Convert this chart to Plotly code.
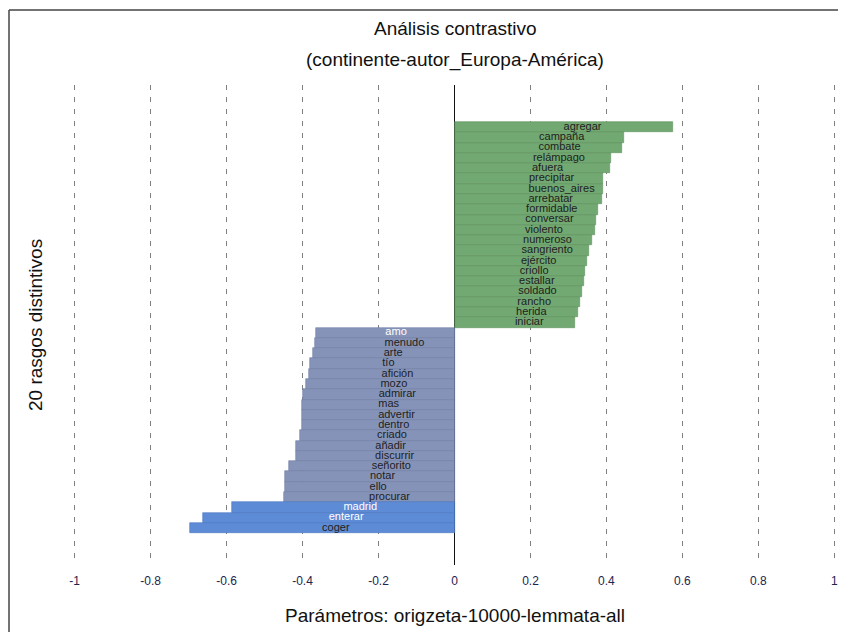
import plotly.graph_objects as go

# ---- data ----
words_pos = ["agregar", "campaña", "combate", "relámpago", "afuera", "precipitar",
             "buenos_aires", "arrebatar", "formidable", "conversar", "violento",
             "numeroso", "sangriento", "ejército", "criollo", "estallar", "soldado",
             "rancho", "herida", "iniciar"]
values_pos = [0.574, 0.445, 0.442, 0.413, 0.408, 0.392, 0.390, 0.389, 0.377, 0.373,
              0.371, 0.361, 0.353, 0.350, 0.344, 0.340, 0.335, 0.331, 0.324, 0.318]

words_neg = ["amo", "menudo", "arte", "tío", "afición", "mozo", "admirar", "mas",
             "advertir", "dentro", "criado", "añadir", "discurrir", "señorito",
             "notar", "ello", "procurar", "madrid", "enterar", "coger"]
values_neg = [-0.364, -0.368, -0.373, -0.380, -0.384, -0.390, -0.399, -0.401,
              -0.402, -0.402, -0.408, -0.417, -0.418, -0.436, -0.445, -0.447,
              -0.450, -0.585, -0.662, -0.697]

tick_vals = [-1, -0.8, -0.6, -0.4, -0.2, 0, 0.2, 0.4, 0.6, 0.8, 1]
tick_text = ["-1", "-0.8", "-0.6", "-0.4", "-0.2", "0", "0.2", "0.4", "0.6", "0.8", "1"]

title_1 = "Análisis contrastivo"
title_2 = "(continente-autor_Europa-América)"
x_title = "Parámetros: origzeta-10000-lemmata-all"
y_title = "20 rasgos distintivos"

# ---- styles ----
GREEN = "#72a872"
GREEN_LINE = "#5e925e"
GREY_BLUE = "#8693b8"
GREY_BLUE_LINE = "#6f7ca2"
BRIGHT_BLUE = "#5e8bd6"
BRIGHT_BLUE_LINE = "#4a76c0"
WHITE_LABELS = {"amo", "madrid", "enterar"}
FONT = "Liberation Sans, Arial, sans-serif"

words = words_pos + words_neg
values = values_pos + values_neg

colors, line_colors = [], []
for v in values:
    if v > 0:
        colors.append(GREEN); line_colors.append(GREEN_LINE)
    elif v > -0.5:
        colors.append(GREY_BLUE); line_colors.append(GREY_BLUE_LINE)
    else:
        colors.append(BRIGHT_BLUE); line_colors.append(BRIGHT_BLUE_LINE)

text_colors = ["#ffffff" if w in WHITE_LABELS else "#1e1e1e" for w in words]

fig = go.Figure()
fig.add_trace(go.Bar(
    x=values, y=words, orientation="h",
    marker=dict(color=colors, line=dict(color=line_colors, width=0.6)),
    hoverinfo="x+y", showlegend=False,
))
fig.add_trace(go.Scatter(
    x=[v / 2 for v in values], y=words, mode="text", text=words,
    textposition="middle right",
    textfont=dict(family=FONT, size=11, color=text_colors),
    hoverinfo="skip", showlegend=False,
))

# page offset (browser body margin) compensation
OFF = 8
FW, FH = 846 - OFF, 632 - OFF
L, R, T, B = 59, 4, 77, 67
W = FW - L - R
H = FH - T - B

def px_x(p):
    return (p - OFF - L) / W

def px_y(p):
    return (FH - B - (p - OFF)) / H

fig.update_layout(
    width=FW, height=FH,
    margin=dict(l=L, r=R, t=T, b=B, autoexpand=False),
    paper_bgcolor="white", plot_bgcolor="white",
    bargap=0,
    font=dict(family=FONT, color="#222222"),
    xaxis=dict(
        range=[-1.02, 1.02],
        tickvals=tick_vals, ticktext=tick_text,
        tickfont=dict(size=12, color="#1c2550"),
        showgrid=True, gridcolor="#808080", gridwidth=1, griddash="5px,7px",
        zeroline=True, zerolinecolor="#111111", zerolinewidth=1,
        showline=False, ticks="", ticklabelstandoff=7,
        automargin=False, fixedrange=True,
    ),
    yaxis=dict(
        categoryorder="array", categoryarray=words,
        range=[42.6, -4.1],
        showticklabels=False, showgrid=False, zeroline=False, ticks="",
        automargin=False, fixedrange=True,
    ),
    shapes=[
        dict(type="line", xref="paper", yref="paper",
             x0=px_x(9), x1=px_x(846), y0=px_y(10), y1=px_y(10),
             line=dict(color="#444444", width=1.5)),
        dict(type="line", xref="paper", yref="paper",
             x0=px_x(9), x1=px_x(9), y0=px_y(10), y1=px_y(632),
             line=dict(color="#444444", width=1.5)),
    ],
    annotations=[
        dict(text=title_1, xref="paper", yref="paper", x=px_x(455), y=px_y(28),
             xanchor="center", yanchor="middle", showarrow=False,
             font=dict(size=19, color="#111111")),
        dict(text=title_2, xref="paper", yref="paper", x=px_x(455), y=px_y(60),
             xanchor="center", yanchor="middle", showarrow=False,
             font=dict(size=19, color="#111111")),
        dict(text=x_title, xref="paper", yref="paper", x=px_x(455), y=px_y(615),
             xanchor="center", yanchor="middle", showarrow=False,
             font=dict(size=19, color="#111111")),
        dict(text=y_title, xref="paper", yref="paper", x=px_x(35), y=px_y(325),
             xanchor="center", yanchor="middle", showarrow=False, textangle=-90,
             font=dict(size=19, color="#111111")),
    ],
)

fig.write_html("out.html")
